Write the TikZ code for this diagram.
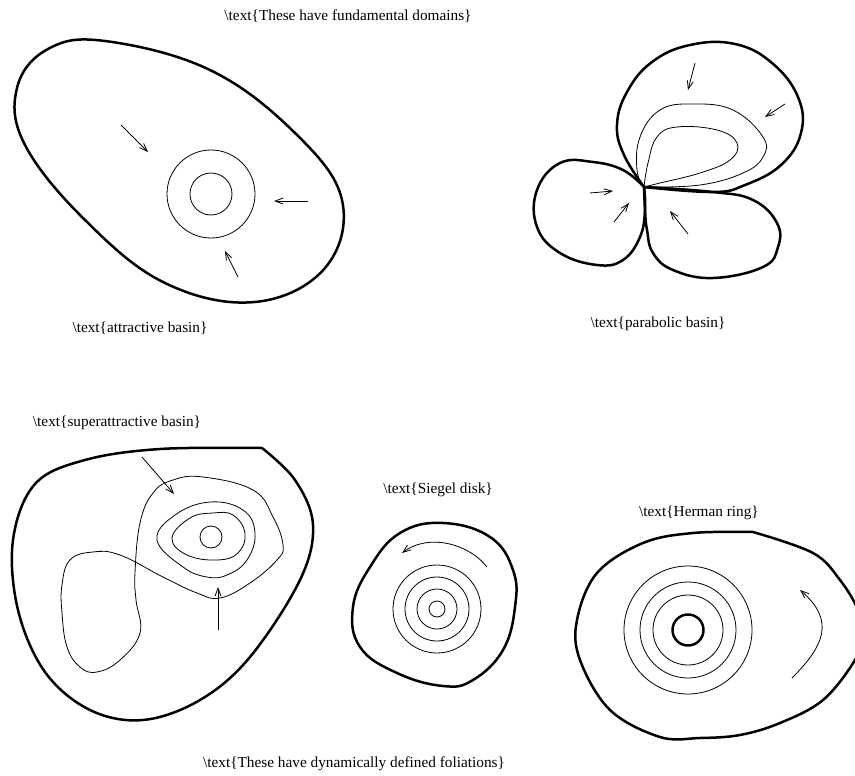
\documentclass[tikz,border=0pt]{standalone}
\usepackage{fontspec}
\setmainfont{Liberation Serif}
\usepackage{tikz}
\usetikzlibrary{arrows.meta}
\tikzset{
  rim/.style={line width=2.5pt,black,line join=round},
  leaf/.style={line width=0.8pt,black},
  flow/.style={-{Straight Barb[length=8pt,width=6pt]},line width=0.8pt,black},
  lbl/.style={font=\fontsize{15.3}{18}\selectfont,inner sep=0pt},
}
\newcommand{\tx}[1]{\textbackslash text\{#1\}}

\begin{document}
\begin{tikzpicture}[x=1pt,y=-1pt]
  \useasboundingbox (0,0) rectangle (855,776);
  \node[lbl](top) at (348,16){\tx{These have fundamental domains}};
  \node[lbl](bot) at (354,764){\tx{These have dynamically defined foliations}};
  % attractive basin
  \draw[rim] plot[smooth cycle,tension=0.65] coordinates {(105,41) (210,70) (295,133) (342,200) (325,268) (255,302)
    (165,283) (85,220) (25,145) (17,88) (48,49)};
  \node[circle,draw,leaf,minimum size=42pt,inner sep=0pt](fix) at (211,194){};
  \draw[leaf] (fix) circle[radius=44];
  \draw[flow] (121,125)--(148,152);
  \draw[flow] (308,201)--(274,201);
  \draw[flow] (238,277)--(225,251);
  \node[lbl](att) at (140,328){\tx{attractive basin}};
  % parabolic basin
  \coordinate (P) at (644,187);
  \draw[rim] plot[smooth,tension=0.7] coordinates {(P) (624,155) (617,125) (627,92) (652,62) (690,45) (735,44) (772,63)
    (798,97) (801,133) (781,165) (745,185) (713,192) (P)};
  \draw[rim] plot[smooth,tension=0.7] coordinates {(P) (713,192) (753,200) (777,223) (778,247) (763,267) (713,278)
    (673,270) (653,253) (647,230) (645,210) (P)};
  \draw[rim] plot[smooth,tension=0.7] coordinates {(P) (623,170) (593,162) (560,163) (537,190) (537,227) (560,253)
    (597,265) (623,260) (640,237) (645,210) (P)};
  \draw[leaf] plot[smooth,tension=0.7] coordinates {(P) (637,170) (640,137) (660,110) (693,104) (733,110) (763,137)
    (763,157) (743,173) (700,185) (P)};
  \draw[leaf] plot[smooth,tension=0.7] coordinates {(P) (648,163) (657,137) (677,127) (717,130) (737,143) (730,160)
    (700,173) (660,183) (P)};
  \draw[flow] (695,63)--(688,90);
  \draw[flow] (785,104)--(765,117);
  \draw[flow] (590,193)--(613,191);
  \draw[flow] (614,222)--(629,203);
  \draw[flow] (688,234)--(670,211);
  \node[lbl](par) at (658,324){\tx{parabolic basin}};
  % superattractive basin
  \node[lbl](sup) at (117,423){\tx{superattractive basin}};
  \draw[rim] plot[smooth,tension=0.6] coordinates {(262,448) (295,480) (313,525) (300,580) (250,657) (200,700)
    (143,720) (90,710) (45,672) (18,610) (13,540) (35,484) (85,460) (160,449) (262,448)};
  \draw[leaf] plot[smooth cycle,tension=0.7] coordinates {(203,477) (253,490) (273,517) (283,545) (277,560) (250,583)
    (220,598) (197,593) (163,577) (120,555) (93,552) (70,560) (62,585) (62,613) (67,647) (80,667) (97,672) (120,660)
    (140,633) (136,600) (135,573) (140,523) (153,493) (173,480)};
  \draw[leaf] plot[smooth cycle,tension=0.7] coordinates {(157,540) (175,515) (210,502) (243,510) (255,533) (247,560)
    (227,575) (207,577) (183,567)};
  \draw[leaf] plot[smooth cycle,tension=0.7] coordinates {(172,538) (190,518) (213,513) (233,515) (245,533) (238,553)
    (217,560) (187,555)};
  \node[circle,draw,leaf,minimum size=22pt,inner sep=0pt](sfix) at (211,537){};
  \draw[flow] (142,457)--(174,494);
  \draw[flow] (218,630)--(218,587);
  % Siegel disk
  \node[lbl](sie) at (438,490){\tx{Siegel disk}};
  \draw[rim] plot[smooth cycle,tension=0.7] coordinates {(443,523) (490,537) (513,570) (515,607) (503,650) (473,680)
    (443,686) (397,673) (360,647) (353,607) (370,567) (400,533)};
  \node[circle,draw,leaf,minimum size=16pt,inner sep=0pt](sc) at (437,609){};
  \foreach \r in {20,32,44}
    {\draw[leaf] (sc) circle[radius=\r];}
  \draw[flow] (487,567) .. controls (470,545) and (430,532) .. (402,553);
  % Herman ring
  \node[lbl](her) at (699,513){\tx{Herman ring}};
  \draw[rim] plot[smooth,tension=0.6] coordinates {(753,532) (813,553) (840,580) (858,610) (862,635) (855,660)
    (823,700) (780,723) (740,735) (700,738) (660,737) (610,710) (580,660) (577,620) (597,573) (643,543) (693,533) (753,532)};
  \node[circle,draw,rim,minimum size=31pt,inner sep=0pt](hc) at (688,630){};
  \foreach \r in {35,48,64}
    {\draw[leaf] (hc) circle[radius=\r];}
  \draw[flow] (792,678) .. controls (825,645) and (835,620) .. (800,590);
\end{tikzpicture}
\end{document}
